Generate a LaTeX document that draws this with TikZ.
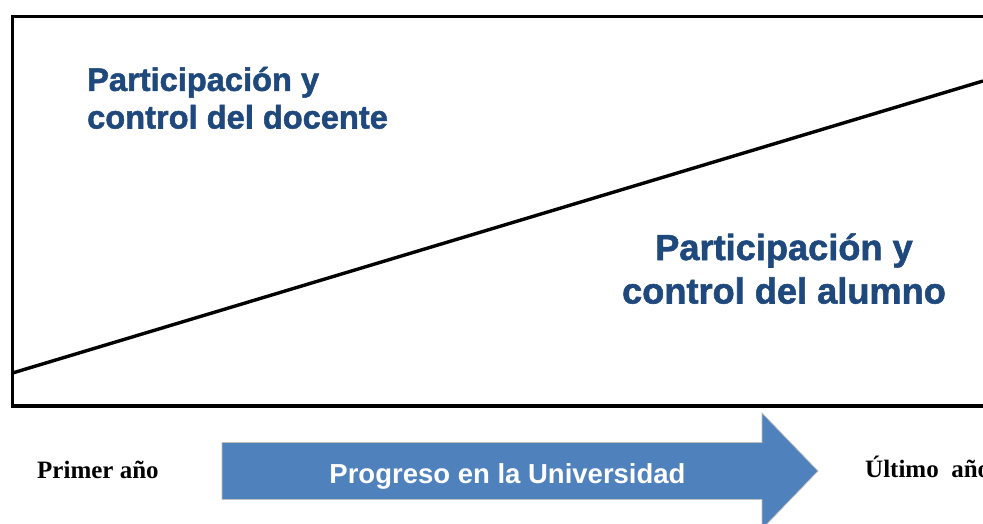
\documentclass[tikz,border=0pt]{standalone}
\usepackage{fontspec}
\setmainfont{Liberation Serif}
\newfontfamily\arialfont{Liberation Sans}
\newfontfamily\heavyfont[FakeBold=1.6]{Liberation Sans Bold}
\definecolor{textblue}{HTML}{1F497D}
\definecolor{arrowblue}{HTML}{4F81BD}
\tikzset{
  roletext/.style={text=textblue, inner sep=0pt, anchor=base},
  yeartext/.style={inner sep=0pt, anchor=base west, font=\bfseries\fontsize{25}{28}\selectfont},
}
\begin{document}
\begin{tikzpicture}[x=1pt,y=-1pt]
\useasboundingbox (0,0) rectangle (983,523);
\clip (0,0) rectangle (983,523);
% box and dividing line
\draw [line width=3.4pt] (12.5,16.5) rectangle (1000,406);
\coordinate (start) at (12.5,373);
\coordinate (end) at (983,81);
\draw [line width=3.4pt] (start) -- (end);
\node (docente) [roletext, align=left, anchor=base west, font=\heavyfont\fontsize{32.6}{37.6}\selectfont] at (87,128.5) {Participación y\\control del docente};
\node (alumno) [roletext, align=center, font=\heavyfont\fontsize{36.2}{43.5}\selectfont] at (784,303.5) {Participación y\\control del alumno};
% progress arrow
\fill [arrowblue, draw=gray!50, line width=0.75pt] (222,442.5) -- (762,442.5) -- (762,413) -- (818,471) -- (762,529) -- (762,499.5) -- (222,499.5) -- cycle;
\node (progreso) [inner sep=0pt, anchor=base, text=white, font=\arialfont\bfseries\fontsize{27.5}{30}\selectfont] at (507.5,483) {Progreso en la Universidad};
\node (primer) [yeartext] at (37,478) {Primer año};
\node (ultimo) [yeartext] at (865,477) {Último~~año};
\end{tikzpicture}
\end{document}
